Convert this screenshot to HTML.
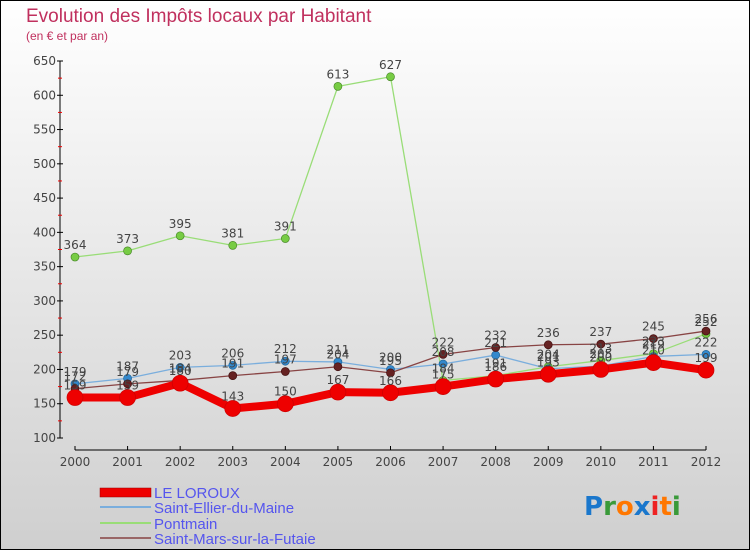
<!DOCTYPE html>
<html><head><meta charset="utf-8"><style>
body{margin:0;width:750px;height:550px;overflow:hidden}
svg{display:block;font-family:"DejaVu Sans","Liberation Sans",sans-serif}
</style></head><body>
<svg id="chart" width="750" height="550" viewBox="0 0 750 550">
<defs><linearGradient id="bg" x1="0" y1="0" x2="0" y2="1"><stop offset="0" stop-color="#ffffff"/><stop offset="1" stop-color="#cfcfcf"/></linearGradient></defs>
<rect x="0.5" y="0.5" width="749" height="549" fill="url(#bg)" stroke="#000"/>
<text x="26" y="22" font-size="19" fill="#c0305e" font-family="Liberation Sans,sans-serif">Evolution des Impôts locaux par Habitant</text>
<text x="26" y="40" font-size="12" fill="#c0305e" font-family="Liberation Sans,sans-serif">(en € et par an)</text>
<g id="axes"></g><g id="series"></g><g id="labels"></g>
<g font-size="15" fill="#5555ee" font-family="Liberation Sans,sans-serif">
<rect x="100" y="488" width="51" height="9" fill="#ee0000" stroke="#900" stroke-width="0.5"/>
<text x="154" y="498" fill="#5555ee">LE LOROUX</text>
<line x1="100" y1="507" x2="151" y2="507" stroke="#7aaedd" stroke-width="2"/>
<text x="154" y="513" fill="#5555ee">Saint-Ellier-du-Maine</text>
<line x1="100" y1="523" x2="151" y2="523" stroke="#99dd77" stroke-width="2"/>
<text x="154" y="529" fill="#5555ee">Pontmain</text>
<line x1="100" y1="538" x2="151" y2="538" stroke="#996666" stroke-width="2"/>
<text x="154" y="544" fill="#5555ee">Saint-Mars-sur-la-Futaie</text>
</g>
<g font-size="26" font-family="DejaVu Sans,sans-serif" font-weight="bold">
<text x="584" y="515"><tspan fill="#1a77cc">P</tspan><tspan fill="#3a9a3a">r</tspan><tspan fill="#ff7700">o</tspan><tspan fill="#1a77cc">x</tspan><tspan fill="#ee2222">i</tspan><tspan fill="#ff7700">t</tspan><tspan fill="#3a9a3a">i</tspan></text>
</g>
</svg>
<script>
const years = ["2000","2001","2002","2003","2004","2005","2006","2007","2008","2009","2010","2011","2012"];
const yTicks = [100,150,200,250,300,350,400,450,500,550,600,650];
const leLoroux = [159,159,180,143,150,167,166,175,186,193,200,210,199];
const saintEllier = [179,187,203,206,212,211,200,208,221,201,205,219,222];
const pontmain = [364,373,395,381,391,613,627,184,191,204,213,223,252];
const saintMars = [172,179,184,191,197,204,195,222,232,236,237,245,256];

const NS="http://www.w3.org/2000/svg";
const x = i => 75 + i*(706-75)/12;
const y = v => 438 - (v-100)*(438-61)/550;
function mk(tag,attrs,parent){const e=document.createElementNS(NS,tag);for(const k in attrs)e.setAttribute(k,attrs[k]);parent.appendChild(e);return e;}
const axes=document.getElementById('axes'), ser=document.getElementById('series'), lab=document.getElementById('labels');
let a=mk('line',{x1:60,y1:61,x2:60,y2:438,stroke:'#000'},axes);


yTicks.forEach((t,i)=>{
  mk('line',{x1:57,y1:y(t),x2:63,y2:y(t),stroke:'#000'},axes);
  if(i<yTicks.length-1) mk('line',{x1:58,y1:y(t+25),x2:62,y2:y(t+25),stroke:'#e00'},axes);
  const tx=mk('text',{x:56,y:y(t)+4,'font-size':12,'text-anchor':'end',fill:'#444'},axes);
  tx.textContent=t;
  
  
});
let xa=mk('line',{x1:75,y1:450,x2:706,y2:450,stroke:'#000'},axes);


years.forEach((yr,i)=>{
  mk('line',{x1:x(i),y1:446,x2:x(i),y2:450,stroke:'#000'},axes);
  const tx=mk('text',{x:x(i),y:466,'font-size':12,'text-anchor':'middle',fill:'#444'},axes);
  tx.textContent=yr;
  
  
});
function draw(data,name,color,w,r,dot,stroke){
  const g=mk('g',{},ser);
  
  
  mk('polyline',{points:data.map((v,i)=>x(i)+','+y(v)).join(' '),fill:'none',stroke:color,'stroke-width':w,'stroke-linejoin':'round'},g);
  data.forEach((v,i)=>{
    const c=mk('circle',{cx:x(i),cy:y(v),r:r,fill:dot,stroke:stroke,'stroke-width':0.7},g);
    
    
    const t=mk('text',{x:x(i),y:y(v)-8,'font-size':12,'text-anchor':'middle',fill:'#444'},lab);
    t.textContent=v;
    
    
  });
}
draw(pontmain,'pontmain-series','#99dd77',1.3,4,'#77cc44','#4a8a2a');
draw(saintEllier,'saint-ellier-series','#7aaedd',1.3,4,'#3388cc','#226699');
draw(saintMars,'saint-mars-series','#884444',1.3,4,'#662222','#441111');
draw(leLoroux,'le-loroux-series','#ee0000',8,8,'#ee0000','#cc0000');
</script>
</body></html>
